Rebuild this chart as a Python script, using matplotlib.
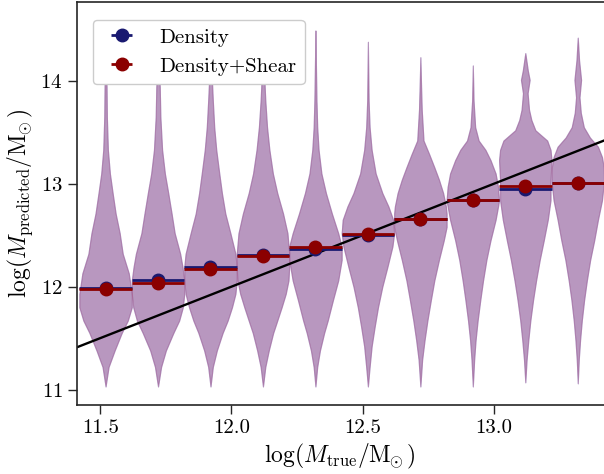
import matplotlib
matplotlib.use("Agg")
import matplotlib.pyplot as plt
import numpy as np

# bin centres of log(M_true)
bin_centres = [11.52, 11.72, 11.92, 12.12, 12.32, 12.52, 12.72, 12.92, 13.12, 13.32]
bin_half = 0.1

# medians of log(M_predicted) per bin
median_density = [11.99, 12.06, 12.19, 12.31, 12.37, 12.505, 12.656, 12.84, 12.95, 13.01]
median_shear = [11.977, 12.04, 12.175, 12.30, 12.39, 12.51, 12.656, 12.845, 12.975, 13.01]

# violin outlines: log(M_predicted) levels and relative density
violin_y = [
    [11.03, 11.22, 11.38, 11.55, 11.67, 11.80, 11.93, 12.13, 12.32, 12.52, 12.71, 12.91, 13.10, 13.33, 13.65, 13.94, 14.30],
    [11.03, 11.22, 11.38, 11.55, 11.67, 11.80, 11.93, 12.06, 12.19, 12.32, 12.52, 12.71, 12.91, 13.10, 13.33, 13.65, 13.94, 14.30],
    [11.03, 11.22, 11.38, 11.55, 11.67, 11.80, 11.93, 12.06, 12.19, 12.32, 12.52, 12.71, 12.91, 13.10, 13.33, 13.55, 13.81, 13.94, 14.40],
    [11.03, 11.22, 11.38, 11.55, 11.67, 11.80, 11.93, 12.06, 12.19, 12.32, 12.52, 12.71, 12.91, 13.10, 13.33, 13.55, 13.81, 13.94, 14.50],
    [11.03, 11.22, 11.38, 11.55, 11.67, 11.87, 12.06, 12.26, 12.39, 12.52, 12.71, 12.91, 13.10, 13.33, 13.55, 13.81, 14.14, 14.49],
    [11.03, 11.22, 11.42, 11.61, 11.80, 12.00, 12.19, 12.39, 12.52, 12.65, 12.78, 12.91, 13.10, 13.33, 13.55, 13.81, 14.38],
    [11.03, 11.29, 11.48, 11.67, 11.87, 12.06, 12.26, 12.45, 12.58, 12.71, 12.78, 12.91, 13.04, 13.16, 13.29, 13.42, 13.72, 13.94, 14.23],
    [11.03, 11.29, 11.48, 11.67, 11.87, 12.06, 12.26, 12.45, 12.65, 12.78, 12.84, 12.97, 13.10, 13.23, 13.33, 13.42, 13.55, 13.81, 14.15],
    [11.07, 11.29, 11.48, 11.67, 11.87, 12.06, 12.26, 12.45, 12.65, 12.84, 13.03, 13.23, 13.33, 13.42, 13.52, 13.62, 13.72, 13.88, 14.01, 14.10, 14.27],
    [11.06, 11.29, 11.48, 11.67, 11.87, 12.06, 12.26, 12.45, 12.65, 12.84, 13.03, 13.16, 13.26, 13.36, 13.45, 13.55, 13.69, 13.84, 14.01, 14.20, 14.42],
]
violin_w = [
    [0, 3, 9, 16, 22, 26, 26, 23, 17, 14, 10, 7, 4.3, 2.3, 1.3, 1.0, 0],
    [0, 3, 7.7, 15, 20.7, 24.3, 25.7, 25.7, 24, 21.7, 16.3, 13.3, 10, 6.7, 4, 2.3, 1.7, 0],
    [0, 2.3, 6.3, 12, 17, 21.3, 24.7, 26, 26, 24.7, 19.7, 14.7, 11.3, 8.7, 5.7, 3.7, 2.3, 1.7, 0],
    [0, 2.3, 5.7, 10, 14, 18.3, 22.3, 25, 25.7, 25.7, 24, 19.7, 14, 9.7, 6.3, 4, 2.3, 1.7, 0],
    [0, 1.7, 4.3, 8.3, 11.7, 16.7, 21.7, 25, 25, 21.7, 15.7, 10, 5.7, 3, 1.7, 1, 0.5, 0],
    [0, 1.7, 3.7, 6.7, 10, 14.3, 19.3, 24.3, 26, 25, 20.3, 14.3, 7.7, 3.7, 1.7, 0.7, 0],
    [0, 1.7, 4, 6.7, 10, 13.3, 17.7, 22.3, 25, 25, 24.3, 21.7, 17.7, 13.3, 8.3, 3, 1.3, 0.7, 0],
    [0, 1.3, 2.7, 4.7, 7.3, 10, 13.3, 17.3, 22.3, 24.7, 25.7, 24.7, 22.3, 17.3, 12.3, 5.7, 2.3, 0.7, 0],
    [0, 1.3, 3, 5, 7.7, 10.7, 14.3, 18.3, 22.3, 25, 25, 26, 25, 21.7, 10, 6, 3.7, 2.3, 4.3, 2.5, 0],
    [0, 1, 2.3, 4, 6.3, 9, 12.3, 16.3, 20, 24, 26, 25.7, 24, 20, 12, 6, 3, 1.7, 3.3, 1.3, 0],
]

labels = ["Density", "Density+Shear"]


def main():
    plt.rcParams["font.family"] = "serif"
    plt.rcParams["font.serif"] = ["cmr10", "DejaVu Serif"]
    plt.rcParams["mathtext.fontset"] = "cm"
    plt.rcParams["axes.formatter.use_mathtext"] = True

    fig = plt.figure(figsize=(6.04, 4.74), dpi=100)
    ax = fig.add_axes([0.127, 0.1456, 0.873, 0.8509])

    # the two violin sets coincide at this resolution
    for col in ["#4350c0", "#c06687"]:
        for c, ys, ws in zip(bin_centres, violin_y, violin_w):
            ys = np.array(ys)
            ws = np.array(ws) / max(ws) * bin_half
            ax.fill_betweenx(ys, c - ws, c + ws, facecolor=col, edgecolor=col,
                             alpha=0.4, linewidth=0.8, zorder=1)

    xx = np.array([11.3, 13.6])
    ax.plot(xx, xx, color="k", lw=1.7, zorder=2)

    ax.errorbar(bin_centres, median_density, xerr=bin_half, fmt="o", color="midnightblue",
                ms=9, elinewidth=2.0, capsize=0, label=labels[0], zorder=3)
    ax.errorbar(bin_centres, median_shear, xerr=bin_half, fmt="o", color="darkred",
                ms=9, elinewidth=2.0, capsize=0, label=labels[1], zorder=4)

    ax.set_xlim(11.41, 13.42)
    ax.set_ylim(10.85, 14.77)
    ax.set_xticks([11.5, 12.0, 12.5, 13.0])
    ax.set_xticklabels(["11.5", "12.0", "12.5", "13.0"])
    ax.set_yticks([11, 12, 13, 14])

    ax.set_xlabel(r"$\log(M_{\rm true}/{\rm M}_{\!\!\odot})$", fontsize=17)
    ax.set_ylabel(r"$\log(M_{\rm predicted}/{\rm M}_{\!\!\odot})$", fontsize=17)
    ax.tick_params(direction="out", length=6.5, width=1, labelsize=15, color="0.15")
    for s in ax.spines.values():
        s.set_color("0.15")
        s.set_linewidth(1.2)
    ax.spines["right"].set_visible(False)

    leg = ax.legend(loc="upper left", bbox_to_anchor=(0.03, 0.955), borderaxespad=0,
                    fontsize=15, framealpha=1, edgecolor="0.8")
    leg.set_zorder(10)

    fig.savefig("out.png", dpi=100)


if __name__ == "__main__":
    main()
